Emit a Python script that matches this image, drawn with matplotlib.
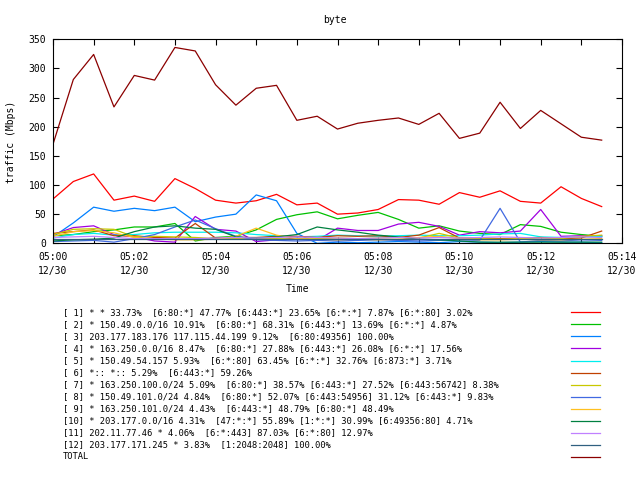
import pandas as pd
import numpy as np
import matplotlib
matplotlib.use("Agg")
import matplotlib.pyplot as plt
import matplotlib.dates as mdates
from matplotlib.lines import Line2D

plt.rcParams['font.family'] = ['DejaVu Sans Mono']

# 30 second samples, 05:00:00 .. 05:13:30
times = pd.date_range("2000-12-30 05:00:00", periods=28, freq="30s")

labels = [
    "[ 1] * * 33.73%  [6:80:*] 47.77% [6:443:*] 23.65% [6:*:*] 7.87% [6:*:80] 3.02%",
    "[ 2] * 150.49.0.0/16 10.91%  [6:80:*] 68.31% [6:443:*] 13.69% [6:*:*] 4.87%",
    "[ 3] 203.177.183.176 117.115.44.199 9.12%  [6:80:49356] 100.00%",
    "[ 4] * 163.250.0.0/16 8.47%  [6:80:*] 27.88% [6:443:*] 26.08% [6:*:*] 17.56%",
    "[ 5] * 150.49.54.157 5.93%  [6:*:80] 63.45% [6:*:*] 32.76% [6:873:*] 3.71%",
    "[ 6] *:: *:: 5.29%  [6:443:*] 59.26%",
    "[ 7] * 163.250.100.0/24 5.09%  [6:80:*] 38.57% [6:443:*] 27.52% [6:443:56742] 8.38%",
    "[ 8] * 150.49.101.0/24 4.84%  [6:80:*] 52.07% [6:443:54956] 31.12% [6:443:*] 9.83%",
    "[ 9] * 163.250.101.0/24 4.43%  [6:443:*] 48.79% [6:80:*] 48.49%",
    "[10] * 203.177.0.0/16 4.31%  [47:*:*] 55.89% [1:*:*] 30.99% [6:49356:80] 4.71%",
    "[11] 202.11.77.46 * 4.06%  [6:*:443] 87.03% [6:*:80] 12.97%",
    "[12] 203.177.171.245 * 3.83%  [1:2048:2048] 100.00%",
    "TOTAL",
]

colors = ["#ff0000", "#00c000", "#0080ff", "#a000e0", "#00eeee", "#c04000",
          "#c8c800", "#4169e1", "#ffc020", "#008040", "#c080ff", "#306080",
          "#8b0000"]

s1 = [76, 106, 119, 74, 81, 72, 111, 94, 74, 69, 73, 84, 66, 69,
      50, 52, 58, 75, 74, 67, 87, 79, 90, 72, 69, 97, 77, 63]
s2 = [13, 15, 20, 23, 28, 28, 34, 4, 10, 12, 23, 41, 49, 54,
      42, 48, 53, 41, 26, 30, 21, 17, 15, 32, 29, 19, 15, 12]
s3 = [11, 35, 62, 55, 60, 56, 62, 37, 45, 50, 83, 73, 17, 0,
      2, 1, 2, 3, 2, 1, 3, 2, 1, 2, 3, 2, 2, 1]
s4 = [15, 27, 30, 15, 11, 4, 2, 46, 24, 21, 3, 6, 9, 5,
      26, 22, 22, 33, 36, 29, 14, 20, 18, 21, 58, 12, 13, 13]
s5 = [9, 15, 17, 14, 15, 18, 19, 19, 19, 18, 15, 13, 11, 12,
      14, 13, 12, 13, 14, 13, 13, 14, 16, 17, 11, 10, 11, 12]
s6 = [17, 20, 23, 13, 13, 10, 9, 34, 9, 10, 10, 12, 12, 10,
      13, 12, 13, 10, 14, 27, 9, 9, 8, 8, 10, 8, 9, 21]
s7 = [15, 24, 25, 24, 11, 12, 11, 10, 8, 8, 9, 8, 7, 8,
      9, 8, 9, 10, 9, 17, 9, 8, 7, 8, 9, 8, 12, 14]
s8 = [3, 4, 5, 2, 8, 15, 28, 40, 25, 12, 6, 5, 4, 5,
      4, 5, 6, 5, 4, 5, 6, 5, 60, 2, 5, 4, 6, 5]
s9 = [12, 20, 22, 18, 10, 8, 6, 6, 7, 12, 26, 14, 8, 7,
      6, 7, 6, 7, 10, 12, 8, 6, 6, 7, 6, 6, 7, 8]
s10 = [4, 6, 7, 9, 20, 28, 30, 26, 24, 11, 9, 11, 15, 28,
       23, 19, 14, 11, 7, 6, 4, 2, 2, 2, 2, 2, 2, 2]
s11 = [10, 11, 12, 10, 8, 8, 8, 8, 9, 10, 9, 10, 11, 10,
       9, 8, 9, 10, 9, 10, 9, 10, 11, 10, 9, 10, 11, 10]
s12 = [8, 8, 8, 8, 8, 8, 8, 8, 8, 8, 8, 8, 8, 8,
       8, 8, 8, 8, 8, 8, 8, 8, 8, 8, 8, 8, 8, 8]
total = [170, 281, 324, 234, 288, 280, 336, 330, 272, 237, 266, 271, 211, 218,
         196, 206, 211, 215, 204, 223, 180, 189, 242, 197, 228, 205, 182, 177]

series = [s1, s2, s3, s4, s5, s6, s7, s8, s9, s10, s11, s12, total]

fig = plt.figure(figsize=(6.4, 4.8), dpi=100)
ax = fig.add_axes([53 / 640, 1 - 243.3 / 480, (622 - 53) / 640, (243.3 - 39.3) / 480])

for vals, c in zip(series, colors):
    ax.plot(times, vals, color=c, lw=0.9)

ax.set_ylim(0, 350)
ax.set_yticks(range(0, 351, 50))
ax.set_xlim(pd.Timestamp("2000-12-30 05:00"), pd.Timestamp("2000-12-30 05:14"))
ax.xaxis.set_major_locator(mdates.MinuteLocator(byminute=range(0, 60, 2)))
ax.xaxis.set_minor_locator(mdates.MinuteLocator())
ax.xaxis.set_major_formatter(mdates.DateFormatter("%H:%M\n%m/%d"))
for lab in ax.get_xticklabels():
    lab.set_linespacing(1.5)
ax.tick_params(which="both", direction="in", top=True, right=True,
               labelsize=7, width=0.8)
ax.tick_params(which="major", length=4)
ax.tick_params(which="minor", length=4)
ax.tick_params(axis="x", pad=6)
ax.tick_params(axis="y", pad=5)
for sp in ax.spines.values():
    sp.set_linewidth(0.8)

fig.text(335 / 640, 1 - 20 / 480, "byte", fontsize=7, ha="center", va="center")
fig.text(297 / 640, 1 - 289 / 480, "Time", fontsize=7, ha="center", va="center")
fig.text(11 / 640, 1 - 142 / 480, "traffic (Mbps)", fontsize=7, rotation=90,
         ha="center", va="center")

# key below the plot: text on the left, sample line on the right
for k, (lab, c) in enumerate(zip(labels, colors)):
    y = 1 - (312.3 + 12.05 * k) / 480
    fig.text(63 / 640, y, lab, fontsize=6.3, ha="left", va="center")
    fig.add_artist(Line2D([571 / 640, 600 / 640], [y, y], color=c, lw=0.9,
                          transform=fig.transFigure))

fig.savefig("out.png", dpi=100)
